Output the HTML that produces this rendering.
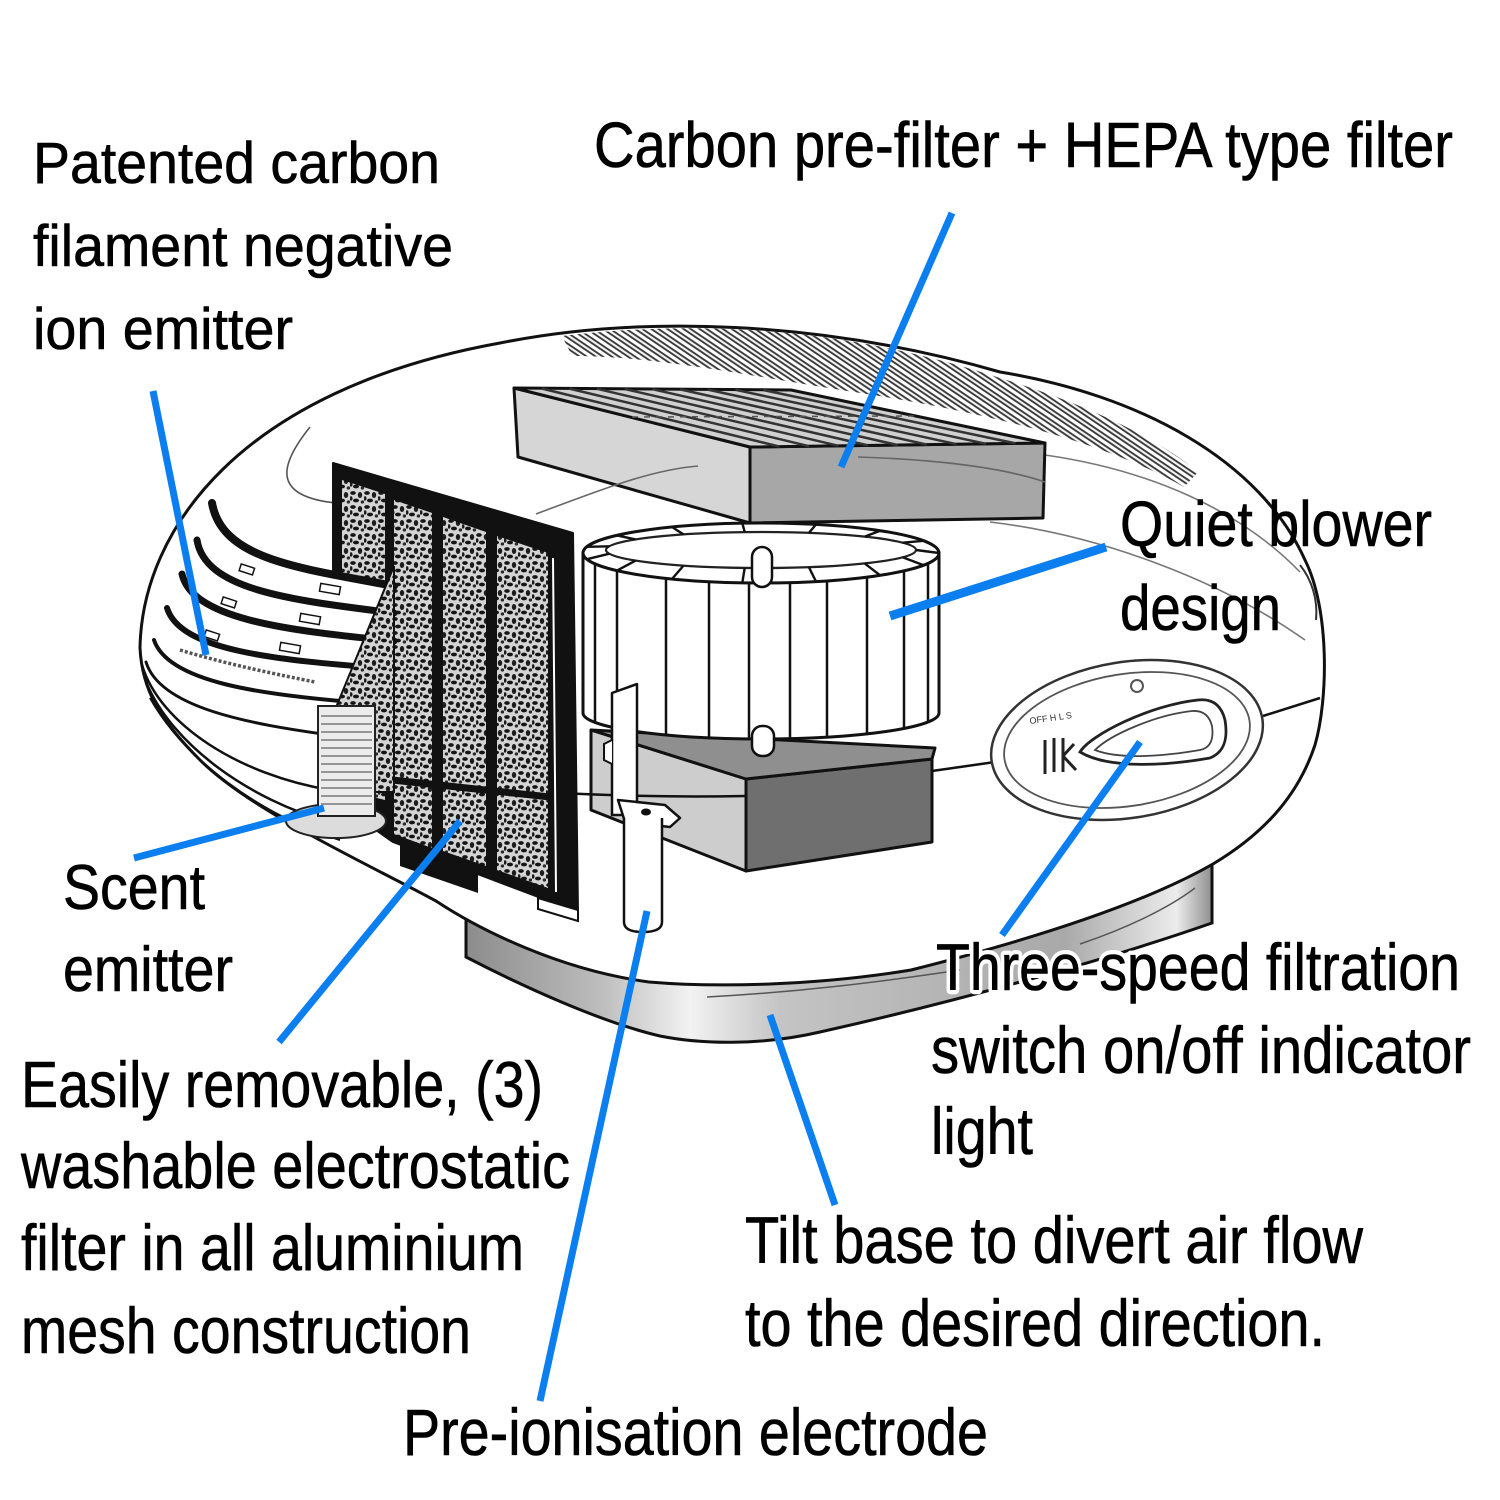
<!DOCTYPE html>
<html>
<head>
<meta charset="utf-8">
<style>
  html,body{margin:0;padding:0;background:#fff;}
  svg{display:block;}
  .t{font-family:"Liberation Sans Narrow","Liberation Sans",Arial,sans-serif;fill:#000;}
</style>
</head>
<body>
<svg width="1500" height="1500" viewBox="0 0 1500 1500" xmlns="http://www.w3.org/2000/svg">
<defs>
  <linearGradient id="baseg" gradientUnits="userSpaceOnUse" x1="466" y1="0" x2="1214" y2="0">
    <stop offset="0" stop-color="#8c8c8c"/>
    <stop offset="0.18" stop-color="#bdbdbd"/>
    <stop offset="0.3" stop-color="#f2f2f2"/>
    <stop offset="0.42" stop-color="#c4c4c4"/>
    <stop offset="0.8" stop-color="#a9a9a9"/>
    <stop offset="0.95" stop-color="#ececec"/>
    <stop offset="1" stop-color="#8a8a8a"/>
  </linearGradient>
  <pattern id="mesh" width="14" height="14" patternUnits="userSpaceOnUse">
    <rect width="14" height="14" fill="#d4d4d4"/>
    <ellipse cx="3" cy="3" rx="2.8" ry="1.9" fill="#151515"/>
    <ellipse cx="10" cy="5" rx="2.2" ry="3" fill="#1c1c1c"/>
    <ellipse cx="6" cy="10.5" rx="3" ry="1.9" fill="#151515"/>
    <ellipse cx="12.5" cy="12" rx="1.8" ry="1.6" fill="#2a2a2a"/>
    <ellipse cx="1" cy="8.5" rx="1.5" ry="2.2" fill="#1c1c1c"/>
  </pattern>
  <pattern id="hatch" width="9" height="40" patternUnits="userSpaceOnUse" patternTransform="rotate(-56)">
    <rect width="9" height="40" fill="#fff"/>
    <rect x="1.5" y="-2" width="4" height="44" fill="#f4f4f4" stroke="#333" stroke-width="1.8"/>
  </pattern>
</defs>

<rect width="1500" height="1500" fill="#fff"/>

<!-- Base -->
<path d="M466,900 L466,957 C520,985 600,1022 660,1036 C700,1044 760,1046 820,1032 C950,1003 1100,962 1212,923 L1212,850 Z" fill="url(#baseg)"/>
<path d="M466,915 L466,957 C520,985 600,1022 660,1036 C700,1044 760,1046 820,1032 C950,1003 1100,962 1212,923 L1212,862" fill="none" stroke="#111" stroke-width="3"/>
<path d="M707,997 C800,992 880,982 960,970" fill="none" stroke="#555" stroke-width="1.5"/>
<path d="M1080,944 C1130,927 1170,907 1195,888" fill="none" stroke="#555" stroke-width="1.5"/>

<!-- Shell -->
<path d="M140,648 C142,530 240,390 500,343 C640,315 820,320 1000,372 C1140,395 1260,460 1305,560 C1330,610 1328,700 1315,745 C1300,790 1270,830 1213,864 C1150,900 1050,935 911,970 C820,985 720,988 649,982 C560,970 480,930 436,901 C360,860 250,810 200,760 C160,720 142,690 140,648 Z" fill="#fff" stroke="#111" stroke-width="3"/>

<!-- Top hatch band -->
<path d="M562,336 C680,322 830,322 1000,378 C1090,405 1160,440 1198,472 L1184,487 C1110,445 1000,415 867,394 C760,378 660,356 572,356 Z" fill="url(#hatch)"/>

<!-- thin contour lines -->
<path d="M310,427 C282,462 268,496 336,503" fill="none" stroke="#555" stroke-width="1.6"/>
<path d="M1045,455 C1150,470 1240,510 1300,572" fill="none" stroke="#777" stroke-width="1.6"/>
<path d="M990,522 C1100,535 1220,580 1305,640" fill="none" stroke="#777" stroke-width="1.6"/>
<path d="M1300,565 C1312,580 1318,600 1316,620" fill="none" stroke="#333" stroke-width="2"/>

<!-- Left contour lines under ribs -->
<path d="M142,665 C160,725 240,775 330,790" fill="none" stroke="#111" stroke-width="2.5"/>
<path d="M146,682 C172,745 250,800 330,822" fill="none" stroke="#111" stroke-width="2.5"/>
<path d="M150,698 C185,760 260,815 340,840" fill="none" stroke="#111" stroke-width="2"/>

<!-- Carbon pre-filter box -->
<polygon points="514,388 750,447 750,523 518,457" fill="#d6d6d6" stroke="#111" stroke-width="3" stroke-linejoin="round"/>
<polygon points="750,447 1045,443 1043,518 750,523" fill="#a7a7a7" stroke="#111" stroke-width="3" stroke-linejoin="round"/>
<polygon points="514,388 791,390 1045,443 750,447" fill="#d0d0d0" stroke="#111" stroke-width="3" stroke-linejoin="round"/>
<g stroke="#333" stroke-width="2.5">
  <line x1="541.7" y1="388.5" x2="779.5" y2="446.6"/>
  <line x1="569.4" y1="388.6" x2="809" y2="446.2"/>
  <line x1="597.1" y1="388.8" x2="838.5" y2="445.8"/>
  <line x1="624.8" y1="389" x2="868" y2="445.4"/>
  <line x1="652.5" y1="389.2" x2="897.5" y2="445"/>
  <line x1="680.2" y1="389.4" x2="927" y2="444.6"/>
  <line x1="707.9" y1="389.6" x2="956.5" y2="444.2"/>
  <line x1="735.6" y1="389.8" x2="986" y2="443.8"/>
  <line x1="763.3" y1="390" x2="1015.5" y2="443.4"/>
</g>
<line x1="632" y1="417" x2="918" y2="416" stroke="#555" stroke-width="1.5" stroke-dasharray="6 6"/>
<path d="M536,514 C600,490 650,470 698,466" fill="none" stroke="#666" stroke-width="1.6"/>
<path d="M858,457 C950,460 1010,470 1045,482" fill="none" stroke="#666" stroke-width="1.6"/>

<!-- Lower box -->
<polygon points="591,730 746,779 746,871 591,810" fill="#cdcdcd" stroke="#111" stroke-width="3" stroke-linejoin="round"/>
<polygon points="746,779 932,759 932,842 746,871" fill="#6f6f6f" stroke="#111" stroke-width="3" stroke-linejoin="round"/>
<polygon points="591,730 935,748 932,759 746,779" fill="#8f8f8f" stroke="#111" stroke-width="3" stroke-linejoin="round"/>

<!-- Blower -->
<path d="M583,553 L583,713 A178,26 0 0 0 939,713 L939,553 Z" fill="#fff" stroke="#111" stroke-width="3"/>
<g stroke="#111" stroke-width="2.5">
  <line x1="595" y1="564" x2="595" y2="722"/>
  <line x1="617" y1="571" x2="617" y2="728"/>
  <line x1="666" y1="578" x2="666" y2="735"/>
  <line x1="709" y1="582" x2="709" y2="738"/>
  <line x1="749" y1="583" x2="749" y2="739"/>
  <line x1="790" y1="583" x2="790" y2="739"/>
  <line x1="827" y1="581" x2="827" y2="737"/>
  <line x1="867" y1="577" x2="867" y2="734"/>
  <line x1="904" y1="571" x2="904" y2="728"/>
  <line x1="928" y1="563" x2="928" y2="722"/>
</g>
<ellipse cx="761" cy="553" rx="178" ry="30" fill="#fff" stroke="#111" stroke-width="3"/>
<ellipse cx="761" cy="550" rx="155" ry="18" fill="#fff" stroke="#222" stroke-width="2.2"/>
<g stroke="#111" stroke-width="2.4">
  <line x1="939" y1="553" x2="916" y2="550"/>
  <line x1="923.7" y1="565.2" x2="902.6" y2="557.3"/>
  <line x1="880.1" y1="575.3" x2="864.7" y2="563.4"/>
  <line x1="816" y1="581.5" x2="808.9" y2="567.1"/>
  <line x1="742.3" y1="582.9" x2="744.7" y2="567.9"/>
  <line x1="672" y1="579" x2="683.5" y2="565.6"/>
  <line x1="617" y1="570.6" x2="635.6" y2="560.6"/>
  <line x1="586.9" y1="559.2" x2="609.4" y2="553.7"/>
  <line x1="586.9" y1="546.8" x2="609.4" y2="546.3"/>
  <line x1="617" y1="535.4" x2="635.6" y2="539.4"/>
  <line x1="672" y1="527" x2="683.5" y2="534.4"/>
  <line x1="742.3" y1="523.1" x2="744.7" y2="532.1"/>
  <line x1="816" y1="524.5" x2="808.9" y2="532.9"/>
  <line x1="880.1" y1="530.7" x2="864.7" y2="536.6"/>
  <line x1="923.7" y1="540.8" x2="902.6" y2="542.7"/>
</g>
<rect x="752" y="547" width="20" height="40" rx="10" fill="#fff" stroke="#111" stroke-width="2.5"/>
<rect x="752" y="726" width="22" height="30" rx="10" fill="#fff" stroke="#111" stroke-width="2.5"/>

<!-- Seam lines -->
<path d="M560,793 C640,797 700,797 746,796" fill="none" stroke="#111" stroke-width="2.5"/>
<line x1="932" y1="771" x2="995" y2="762" stroke="#111" stroke-width="2.5"/>
<line x1="1263" y1="716" x2="1320" y2="698" stroke="#111" stroke-width="2.5"/>

<!-- Electrode -->
<polygon points="612,693 637,684 637,815 612,815" fill="#fff" stroke="#111" stroke-width="2.5" stroke-linejoin="round"/>
<path d="M612,740 L604,744 L604,760 L612,764" fill="#fff" stroke="#111" stroke-width="2"/>
<polygon points="618,800 665,805 680,818 670,827 625,822" fill="#fff" stroke="#111" stroke-width="2.5" stroke-linejoin="round"/>
<ellipse cx="646" cy="812" rx="5" ry="3.5" fill="#111"/>
<path d="M624,818 L624,922 Q624,932 643,932 Q662,932 662,922 L662,818" fill="#fff" stroke="#111" stroke-width="2.5"/>

<!-- Washable filter panel -->
<polygon points="333,463 573,533 578,912 393,842 333,800" fill="#111" stroke="#111" stroke-width="2" stroke-linejoin="round"/>
<polygon points="342,480 385,494 385,800 342,790" fill="url(#mesh)"/>
<polygon points="394,500 432,513 432,848 394,834" fill="url(#mesh)"/>
<polygon points="443,517 486,532 486,866 443,851" fill="url(#mesh)"/>
<polygon points="497,536 548,553 548,888 497,870" fill="url(#mesh)"/>
<line x1="383" y1="779" x2="550" y2="797" stroke="#111" stroke-width="7"/>
<line x1="553" y1="558" x2="556" y2="892" stroke="#fff" stroke-width="2"/>
<polygon points="400,842 478,870 478,893 400,866" fill="#111"/>
<polygon points="538,898 578,910 578,921 538,909" fill="#fff" stroke="#111" stroke-width="2"/>

<!-- Ribs -->
<path d="M210,500 C222,560 300,568 394,585 L394,700 L320,740 L165,690 Z" fill="#fff"/>
<g fill="none" stroke="#111" stroke-linecap="round">
  <path d="M212,503 C222,560 300,568 394,586" stroke-width="8"/>
  <path d="M197,540 C205,590 290,600 394,613" stroke-width="7"/>
  <path d="M182,574 C192,618 280,630 394,641" stroke-width="7"/>
  <path d="M167,608 C180,650 270,660 394,669" stroke-width="6"/>
  <path d="M154,640 C168,682 260,695 365,703" stroke-width="4"/>
  <path d="M146,662 C160,708 250,724 330,735" stroke-width="3"/>
</g>
<g fill="#fff" stroke="#111" stroke-width="1.5">
  <rect x="240" y="566" width="14" height="7" transform="rotate(18 247 569)"/>
  <rect x="222" y="599" width="14" height="7" transform="rotate(18 229 602)"/>
  <rect x="205" y="632" width="14" height="7" transform="rotate(18 212 635)"/>
  <rect x="320" y="585" width="20" height="8" transform="rotate(10 330 589)"/>
  <rect x="300" y="615" width="20" height="8" transform="rotate(10 310 619)"/>
  <rect x="280" y="644" width="20" height="8" transform="rotate(10 290 648)"/>
</g>
<path d="M180,650 C230,665 280,675 315,682" fill="none" stroke="#555" stroke-width="3.5" stroke-dasharray="3 2"/>

<!-- Wedge -->
<polygon points="330,722 394,566 394,792 330,792" fill="url(#mesh)" stroke="#111" stroke-width="2"/>

<!-- Scent emitter -->
<ellipse cx="336" cy="821" rx="50" ry="17" fill="#dcdcdc" stroke="#222" stroke-width="2"/>
<rect x="318" y="706" width="57" height="110" fill="#ececec" stroke="#222" stroke-width="2"/>
<g stroke="#777" stroke-width="1.6">
  <line x1="321" y1="716" x2="372" y2="716"/>
  <line x1="321" y1="724" x2="372" y2="724"/>
  <line x1="321" y1="732" x2="372" y2="732"/>
  <line x1="321" y1="740" x2="372" y2="740"/>
  <line x1="321" y1="748" x2="372" y2="748"/>
  <line x1="321" y1="756" x2="372" y2="756"/>
  <line x1="321" y1="764" x2="372" y2="764"/>
  <line x1="321" y1="772" x2="372" y2="772"/>
  <line x1="321" y1="780" x2="372" y2="780"/>
  <line x1="321" y1="788" x2="372" y2="788"/>
  <line x1="321" y1="796" x2="372" y2="796"/>
  <line x1="321" y1="804" x2="372" y2="804"/>
</g>

<!-- Control panel -->
<g transform="rotate(-9 1127 740)">
  <ellipse cx="1127" cy="740" rx="137" ry="78" fill="#fff" stroke="#333" stroke-width="2.5"/>
  <ellipse cx="1127" cy="740" rx="124" ry="66" fill="none" stroke="#555" stroke-width="1.8"/>
</g>
<path d="M1080,752 C1090,735 1150,705 1198,700 C1215,698 1222,708 1225,720 C1228,738 1225,752 1210,758 C1170,765 1110,770 1080,752 Z" fill="#fff" stroke="#222" stroke-width="2.8"/>
<path d="M1095,750 C1110,735 1155,715 1192,711 C1205,710 1210,718 1212,726 C1214,740 1210,748 1200,750 C1165,756 1120,760 1095,750 Z" fill="none" stroke="#444" stroke-width="1.8"/>
<circle cx="1137" cy="686" r="6" fill="#fff" stroke="#555" stroke-width="2"/>
<text x="1030" y="724" font-family="Liberation Sans, Arial, sans-serif" font-size="9" fill="#333" transform="rotate(-8 1030 724)">OFF H L S</text>
<g stroke="#222" stroke-width="3">
  <line x1="1045" y1="740" x2="1045" y2="774"/>
  <line x1="1054" y1="738" x2="1054" y2="772"/>
  <line x1="1063" y1="738" x2="1063" y2="772"/>
  <line x1="1063" y1="756" x2="1074" y2="744"/>
  <line x1="1063" y1="756" x2="1076" y2="770"/>
</g>

<!-- Blue leader lines -->
<g stroke="#0b7ef0" stroke-linecap="butt">
  <line x1="952" y1="213" x2="841" y2="467" stroke-width="7"/>
  <line x1="153" y1="391" x2="206" y2="655" stroke-width="7"/>
  <line x1="1106" y1="547" x2="890" y2="616" stroke-width="9"/>
  <line x1="134" y1="858" x2="324" y2="808" stroke-width="7"/>
  <line x1="279" y1="1042" x2="460" y2="821" stroke-width="7"/>
  <line x1="647" y1="911" x2="540" y2="1401" stroke-width="7"/>
  <line x1="1140" y1="742" x2="1002" y2="935" stroke-width="7"/>
  <line x1="770" y1="1015" x2="835" y2="1205" stroke-width="7"/>
</g>

<!-- Labels -->
<g class="t" stroke="#000" stroke-width="0.6">
  <text x="594" y="167" font-size="64" textLength="859" lengthAdjust="spacingAndGlyphs">Carbon pre-filter + HEPA type filter</text>

  <text x="33" y="183" font-size="58" textLength="407" lengthAdjust="spacingAndGlyphs">Patented carbon</text>
  <text x="33" y="266" font-size="58" textLength="420" lengthAdjust="spacingAndGlyphs">filament negative</text>
  <text x="33" y="349" font-size="58" textLength="260" lengthAdjust="spacingAndGlyphs">ion emitter</text>

  <text x="1120" y="546" font-size="64" textLength="312" lengthAdjust="spacingAndGlyphs">Quiet blower</text>
  <text x="1120" y="630" font-size="64" textLength="161" lengthAdjust="spacingAndGlyphs">design</text>

  <text x="63" y="909" font-size="63" textLength="142" lengthAdjust="spacingAndGlyphs">Scent</text>
  <text x="63" y="991" font-size="63" textLength="170" lengthAdjust="spacingAndGlyphs">emitter</text>

  <text x="931" y="1073" font-size="66" textLength="540" lengthAdjust="spacingAndGlyphs">switch on/off indicator</text>
  <text x="931" y="1154" font-size="66" textLength="102" lengthAdjust="spacingAndGlyphs">light</text>

  <text x="21" y="1107" font-size="65" textLength="522" lengthAdjust="spacingAndGlyphs">Easily removable, (3)</text>
  <text x="21" y="1188" font-size="65" textLength="549" lengthAdjust="spacingAndGlyphs">washable electrostatic</text>
  <text x="21" y="1270" font-size="65" textLength="503" lengthAdjust="spacingAndGlyphs">filter in all aluminium</text>
  <text x="21" y="1353" font-size="65" textLength="450" lengthAdjust="spacingAndGlyphs">mesh construction</text>

  <text x="745" y="1263" font-size="66" textLength="618" lengthAdjust="spacingAndGlyphs">Tilt base to divert air flow</text>
  <text x="745" y="1346" font-size="66" textLength="580" lengthAdjust="spacingAndGlyphs">to the desired direction.</text>

  <text x="403" y="1455" font-size="66" textLength="585" lengthAdjust="spacingAndGlyphs">Pre-ionisation electrode</text>
</g>
<text class="t" x="936" y="990" font-size="66" textLength="524" lengthAdjust="spacingAndGlyphs" stroke="#fff" stroke-width="9" stroke-linejoin="round" paint-order="stroke">Three-speed filtration</text>
<text class="t" x="936" y="990" font-size="66" textLength="524" lengthAdjust="spacingAndGlyphs" stroke="#000" stroke-width="0.6">Three-speed filtration</text>
</svg>
</body>
</html>
